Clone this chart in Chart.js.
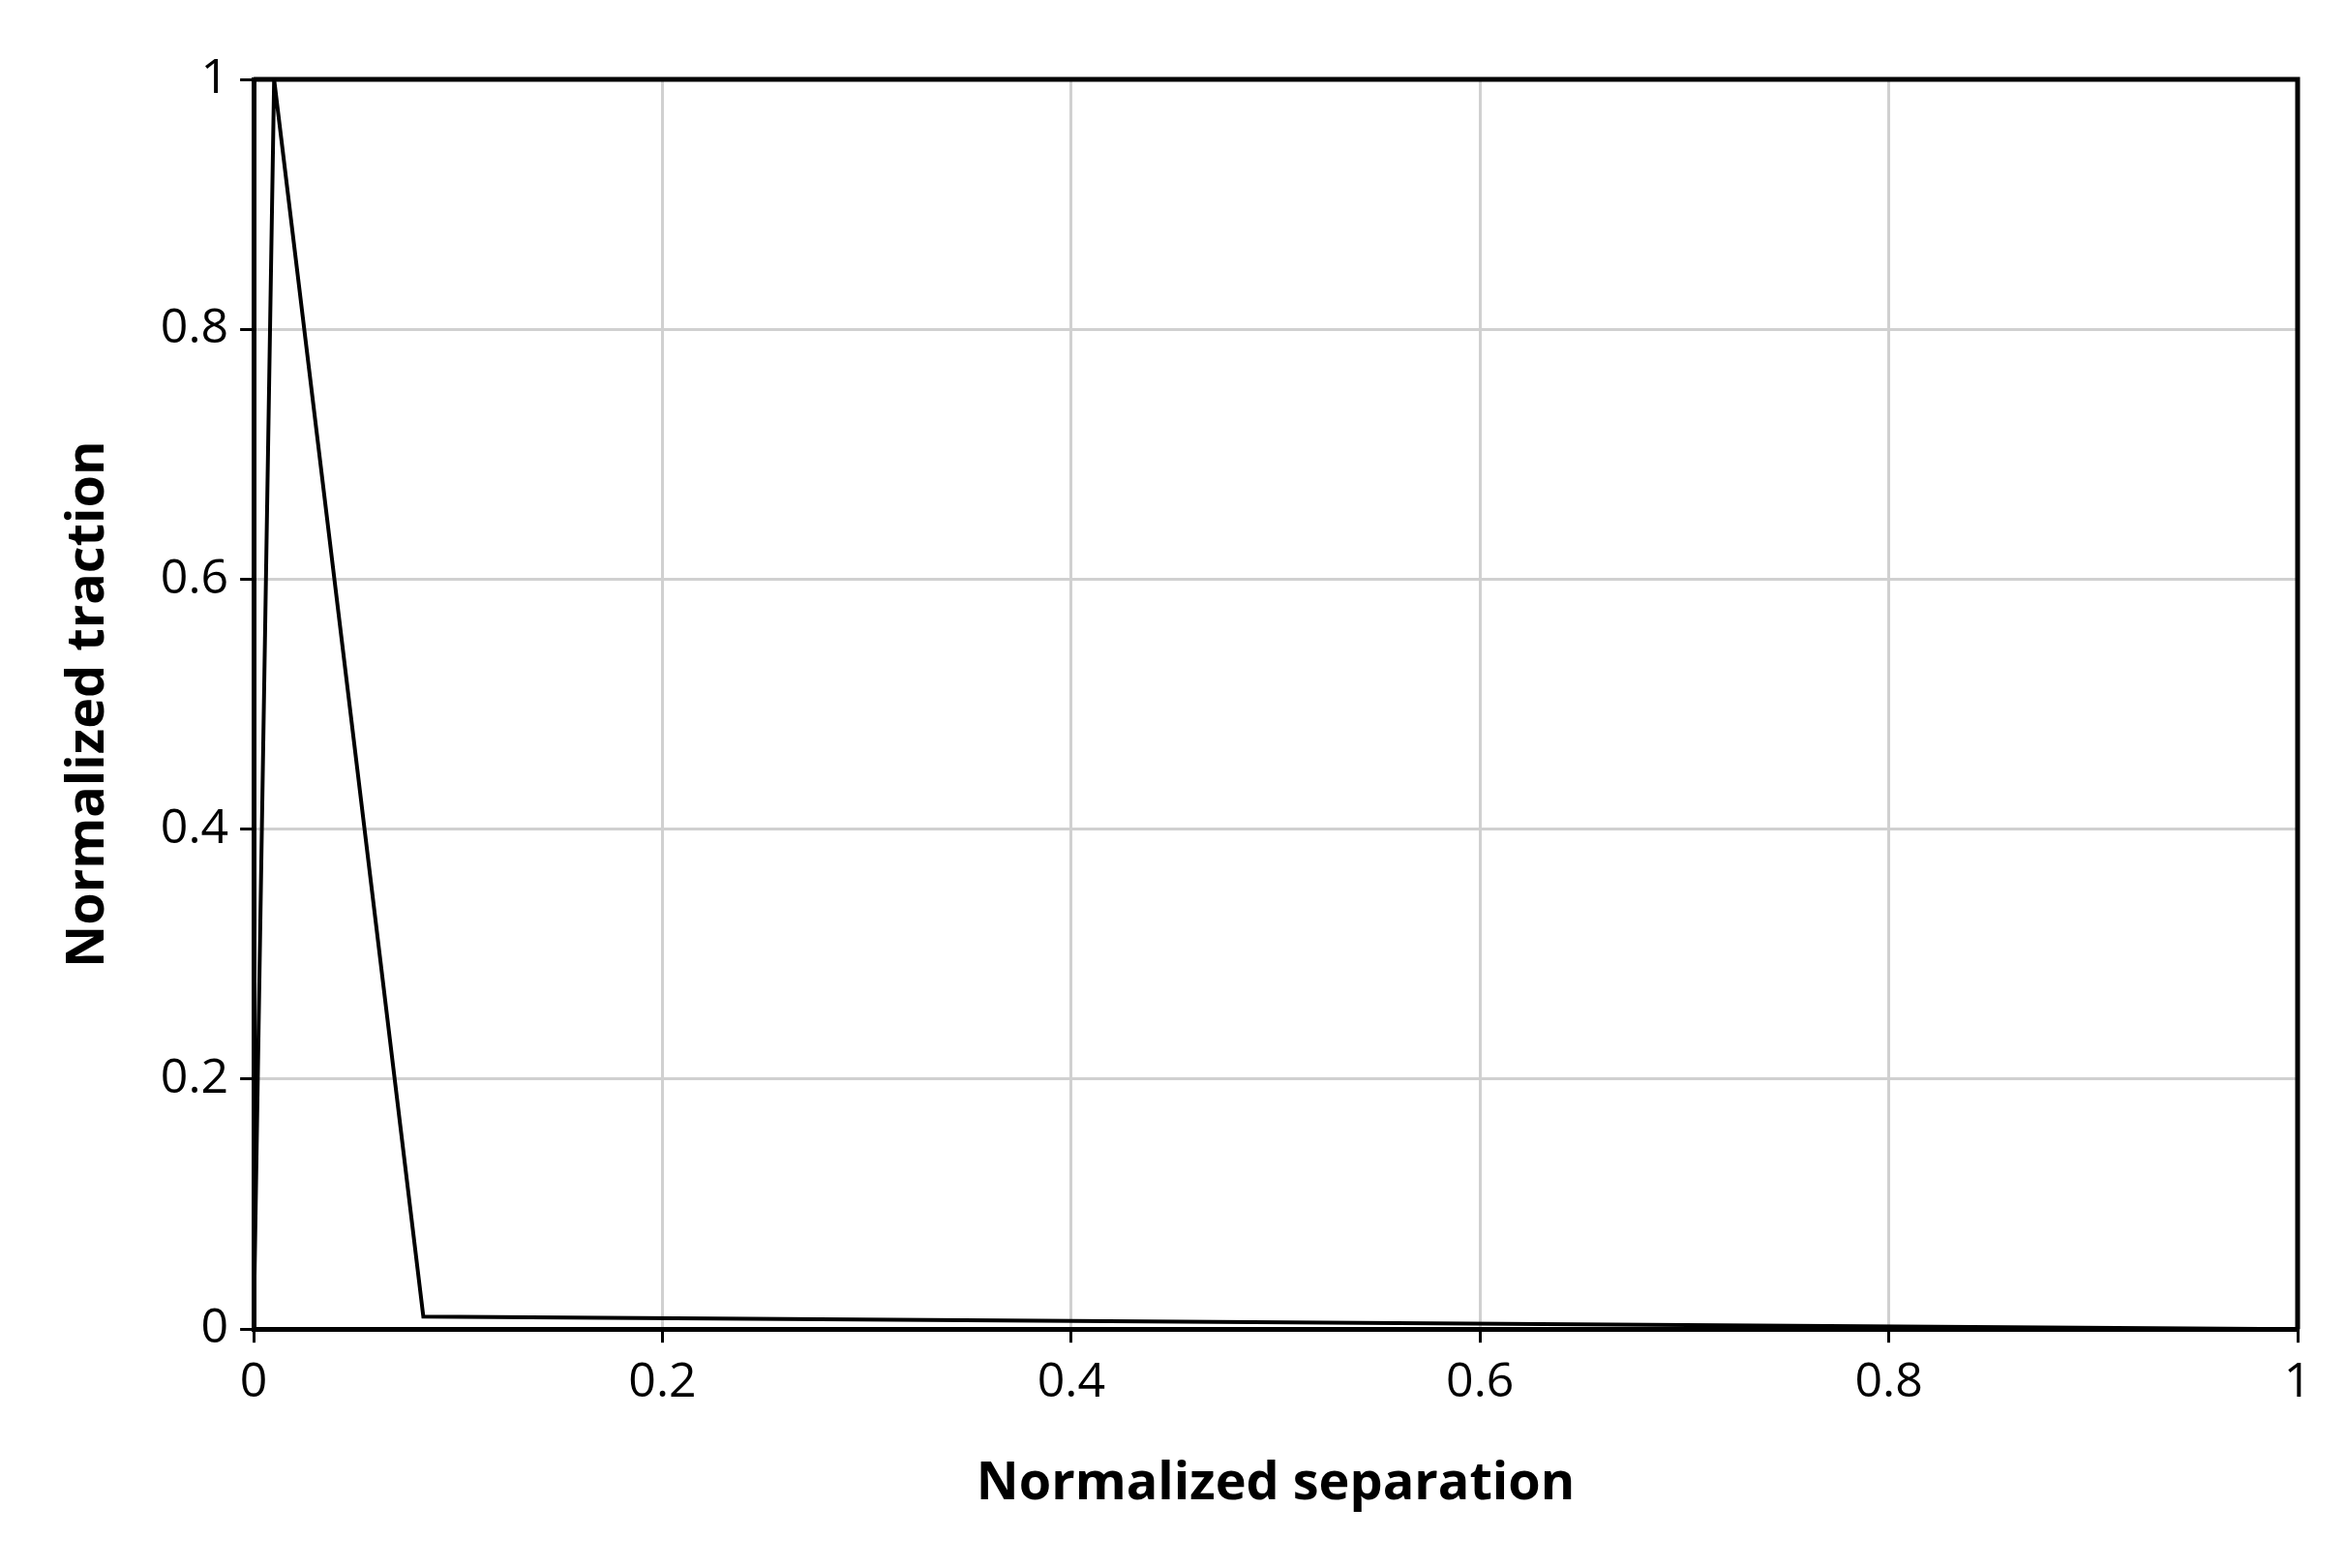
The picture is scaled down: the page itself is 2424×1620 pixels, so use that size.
<!DOCTYPE html>
<html><head><script src="https://cdn.jsdelivr.net/npm/chart.js@4"></script>
<style>html,body{margin:0;background:#fff}#w{width:2424px;height:1620px}</style></head>
<body><div id="w"><canvas id="c"></canvas></div>
<script>
const separation=[0,0.01,0.083,1];
const traction=[0,1,0.01,0];
const xTicks=[0,0.2,0.4,0.6,0.8,1];
const yTicks=[0,0.2,0.4,0.6,0.8,1];
const font={family:'"Open Sans", "Noto Sans", sans-serif',size:50};
new Chart(document.getElementById('c'),{type:'scatter',
data:{datasets:[{data:separation.map((x,i)=>({x,y:traction[i]})),showLine:true,borderColor:'#000',borderWidth:4,pointRadius:0,tension:0}]},
options:{responsive:true,maintainAspectRatio:false,animation:false,
layout:{padding:{left:55,right:50,top:82,bottom:50}},
plugins:{legend:{display:false},tooltip:{enabled:false}},
scales:{
x:{type:'linear',min:0,max:1,afterBuildTicks:a=>{a.ticks=xTicks.map(v=>({value:v}))},
 ticks:{font,color:'#000',padding:12,callback:v=>String(v)},
 grid:{color:'#d0d0d0',lineWidth:3,tickColor:'#000',tickLength:14},
 border:{color:'#000',width:5},
 title:{display:true,text:'Normalized separation',font:{...font,size:54,weight:'bold'},color:'#000',padding:{top:30}}},
y:{type:'linear',min:0,max:1,afterBuildTicks:a=>{a.ticks=yTicks.map(v=>({value:v}))},
 ticks:{font,color:'#000',padding:12,callback:v=>String(v)},
 grid:{color:'#d0d0d0',lineWidth:3,tickColor:'#000',tickLength:14},
 border:{color:'#000',width:5},
 title:{display:true,text:'Normalized traction',font:{...font,size:54,weight:'bold'},color:'#000',padding:{bottom:30}}}
}},
plugins:[{id:'frame',afterDraw(c){const a=c.chartArea,x=c.ctx;x.save();x.strokeStyle='#000';x.lineWidth=5;x.beginPath();x.moveTo(a.left,a.top);x.lineTo(a.right,a.top);x.lineTo(a.right,a.bottom);x.stroke();x.restore();}}]
});
</script></body></html>
